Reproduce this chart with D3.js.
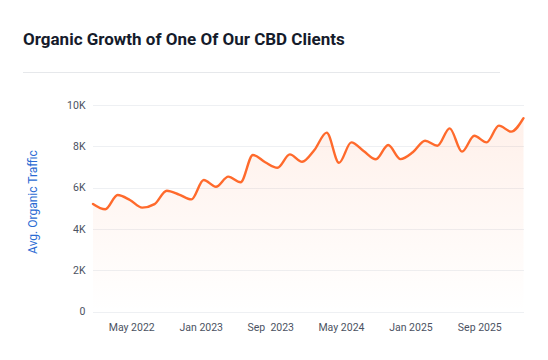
<!DOCTYPE html>
<html>
<head>
<meta charset="utf-8">
<script src="https://cdn.jsdelivr.net/npm/d3@7"></script>
<style>
  html, body { margin: 0; padding: 0; background: #ffffff; }
  svg { display: block; }
  text { font-family: Roboto, "Open Sans", sans-serif; }
</style>
</head>
<body>
<svg id="chart" width="548" height="360"></svg>
<script>
// ---- data ----
const title = "Organic Growth of One Of Our CBD Clients";
const yAxisTitle = "Avg. Organic Traffic";
// average organic traffic (thousands), evenly spaced periods
const traffic = [5.21, 4.95, 5.64, 5.40, 5.03, 5.20, 5.85, 5.66, 5.43, 6.37,
                 6.04, 6.53, 6.26, 7.58, 7.23, 6.96, 7.61, 7.25, 7.82, 8.66,
                 7.20, 8.19, 7.77, 7.37, 8.06, 7.38, 7.71, 8.27, 8.03, 8.87,
                 7.74, 8.51, 8.19, 9.00, 8.71, 9.36];
const yTicks = [0, 2, 4, 6, 8, 10];
const yTickLabels = ["0", "2K", "4K", "6K", "8K", "10K"];
const xTickLabels = ["May 2022", "Jan 2023", "Sep  2023", "May 2024", "Jan 2025", "Sep 2025"];
const xTickPeriods = [3.15, 8.8, 14.45, 20.2, 25.85, 31.45];

// ---- layout ----
const svg = d3.select("#chart");
const plotLeft = 93, plotRight = 523.5, plotTop = 105, plotBottom = 311.5;

const x = d3.scaleLinear().domain([0, traffic.length - 1]).range([plotLeft, plotRight]);
const y = d3.scaleLinear().domain([0, 10]).range([plotBottom, plotTop]);

// title
svg.append("text")
  .attr("x", 23).attr("y", 44.5)
  .attr("font-size", 17).attr("font-weight", 700)
  .attr("fill", "#151b2b")
  .text(title);

// divider
svg.append("line")
  .attr("x1", 23).attr("x2", 500).attr("y1", 72.5).attr("y2", 72.5)
  .attr("stroke", "#e6e8eb").attr("stroke-width", 1);

// gridlines
svg.append("g").selectAll("line").data(yTicks).join("line")
  .attr("x1", plotLeft).attr("x2", plotRight + 0.5)
  .attr("y1", d => Math.round(y(d)) + 0.5).attr("y2", d => Math.round(y(d)) + 0.5)
  .attr("stroke", "#eef0f3").attr("stroke-width", 1);

// y tick labels
svg.append("g").selectAll("text").data(yTicks).join("text")
  .attr("x", 85.5).attr("y", d => y(d))
  .attr("dy", "0.35em")
  .attr("text-anchor", "end")
  .attr("font-size", 10.5).attr("fill", "#4b5262")
  .text((d, i) => yTickLabels[i]);

// x tick labels
svg.append("g").selectAll("text").data(xTickPeriods).join("text")
  .attr("x", d => x(d)).attr("y", 331)
  .attr("text-anchor", "middle")
  .attr("font-size", 10.5).attr("fill", "#4b5262")
  .style("white-space", "pre")
  .text((d, i) => xTickLabels[i]);

// y axis title
svg.append("text")
  .attr("transform", `translate(37, 202) rotate(-90)`)
  .attr("text-anchor", "middle")
  .attr("font-size", 12).attr("fill", "#2b6bd3")
  .text(yAxisTitle);

// gradient
const defs = svg.append("defs");
const grad = defs.append("linearGradient")
  .attr("id", "areaGrad")
  .attr("gradientUnits", "userSpaceOnUse")
  .attr("x1", 0).attr("x2", 0).attr("y1", y(9.5)).attr("y2", y(0));
grad.append("stop").attr("offset", "0%").attr("stop-color", "#ff6a2b").attr("stop-opacity", 0.1);
grad.append("stop").attr("offset", "100%").attr("stop-color", "#ff6a2b").attr("stop-opacity", 0.0);

const curve = d3.curveMonotoneX;
const area = d3.area()
  .x((d, i) => x(i)).y0(y(0)).y1(d => y(d)).curve(curve);
const line = d3.line()
  .x((d, i) => x(i)).y(d => y(d)).curve(curve);

svg.append("path").datum(traffic)
  .attr("d", area).attr("fill", "url(#areaGrad)");

svg.append("path").datum(traffic)
  .attr("d", line).attr("fill", "none")
  .attr("stroke", "#ff6a2c").attr("stroke-width", 2.4)
  .attr("stroke-linejoin", "round").attr("stroke-linecap", "round");
</script>
</body>
</html>
